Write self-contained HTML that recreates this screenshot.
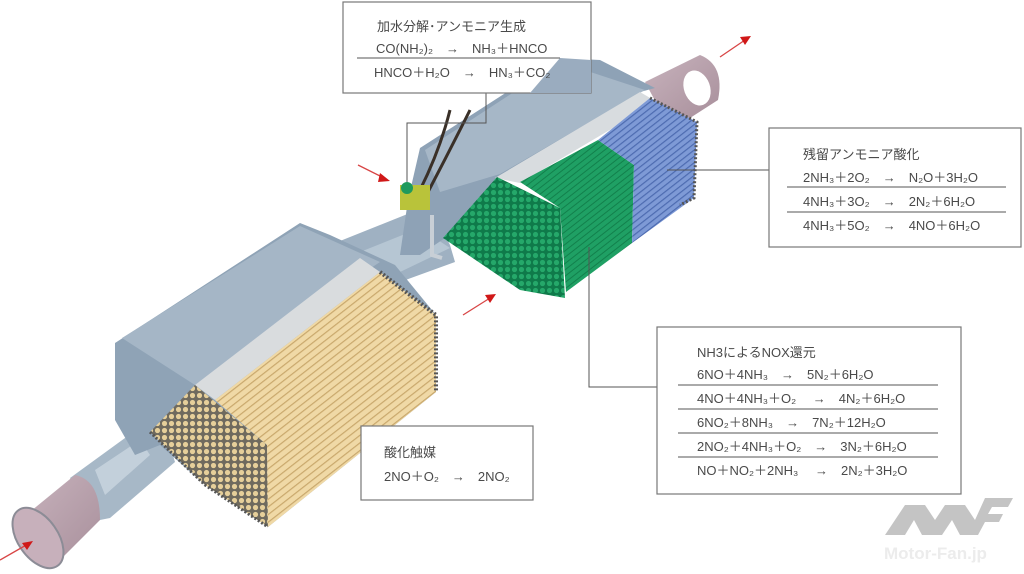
<!DOCTYPE html>
<html><head><meta charset="utf-8"><style>
html,body{margin:0;padding:0;background:#fff;width:1024px;height:574px;overflow:hidden}
svg{display:block}
text{font-family:"Liberation Sans","Noto Sans CJK JP",sans-serif;fill:#4a4a4a;font-size:13px}
</style></head><body>
<svg width="1024" height="574" viewBox="0 0 1024 574" xmlns="http://www.w3.org/2000/svg">
<defs>
<pattern id="hexY" width="7" height="7" patternUnits="userSpaceOnUse"><rect width="7" height="7" fill="#6f6a5e"/><circle cx="3.5" cy="3.5" r="2.6" fill="#e6cf9a"/></pattern>
<pattern id="hexG" width="7" height="7" patternUnits="userSpaceOnUse"><rect width="7" height="7" fill="#0f7a4a"/><circle cx="3.5" cy="3.5" r="2.6" fill="#25a86a"/></pattern>
<pattern id="strY" width="6" height="6" patternUnits="userSpaceOnUse" patternTransform="rotate(-38)"><rect width="6" height="6" fill="#f0d9a6"/><rect width="6" height="1.2" fill="#c9a86c"/></pattern>
<pattern id="strG" width="5" height="5" patternUnits="userSpaceOnUse" patternTransform="rotate(-38)"><rect width="5" height="5" fill="#1fa064"/><rect width="5" height="1" fill="#12804c"/></pattern>
<pattern id="strB" width="5" height="5" patternUnits="userSpaceOnUse" patternTransform="rotate(-38)"><rect width="5" height="5" fill="#7e9ad6"/><rect width="5" height="1.2" fill="#4d6bb0"/></pattern>
<linearGradient id="pink" x1="0" y1="0" x2="1" y2="1"><stop offset="0" stop-color="#c8b3bd"/><stop offset="1" stop-color="#a88f9b"/></linearGradient>
</defs>

<path d="M645,82 L700,55 Q725,65 718,100 L690,118 L660,110 Z" fill="url(#pink)"/>
<ellipse cx="697" cy="88" rx="13" ry="18" fill="#fff" transform="rotate(-20 697 88)"/>

<polygon points="330,245 380,225 430,205 450,245 455,262 400,282 350,282 335,270" fill="#9fb1c2"/>
<polygon points="345,258 420,228 450,248 400,272" fill="#b6c6d3"/>

<polygon points="408,200 420,148 560,58 600,60 655,88 640,92 500,178 445,238 420,255 400,255" fill="#8ea2b6"/>
<polygon points="425,150 560,62 645,90 500,174 440,192" fill="#a6b7c7"/>
<polygon points="495,178 640,92 657,102 520,183" fill="#d8dcdf"/>

<polygon points="443,238 497,177 560,208 565,298 520,290" fill="url(#hexG)"/>
<polygon points="520,182 598,140 634,165 632,243 566,292 560,208" fill="url(#strG)"/>
<polygon points="598,140 650,98 697,122 694,198 632,243 634,165" fill="url(#strB)"/>
<path d="M650,98 L697,122 L694,198 L680,205" fill="none" stroke="#555" stroke-width="3" stroke-dasharray="2 2"/>

<!-- left pipe -->
<polygon points="70,478 125,438 165,430 175,462 110,518 90,522" fill="#a7b8c7"/>
<polygon points="95,470 140,440 150,455 105,495" fill="#c3d0db"/>
<path d="M20,520 L75,475 Q100,480 100,520 L55,565 Z" fill="url(#pink)"/>
<ellipse cx="38" cy="538" rx="20" ry="34" fill="#c7b0bb" stroke="#8c8c96" stroke-width="2" transform="rotate(-35 38 538)"/>

<polygon points="115,343 300,223 330,235 395,265 436,315 436,392 268,527 205,485 160,445 135,455 115,420" fill="#8fa3b6"/>
<polygon points="122,338 300,226 380,262 195,385" fill="#a5b6c6"/>
<polygon points="195,385 360,258 380,272 215,400" fill="#d9dcde"/>
<polygon points="150,432 195,385 267,445 268,527 205,485" fill="url(#hexY)"/>
<polygon points="215,400 380,272 436,315 436,392 268,527 267,445" fill="url(#strY)"/>
<path d="M380,272 L436,315 L436,392" fill="none" stroke="#555" stroke-width="4" stroke-dasharray="2 2"/>
<path d="M150,432 L205,485 L268,527" fill="none" stroke="#555" stroke-width="3" stroke-dasharray="2 2"/>

<path d="M420,190 Q440,150 450,110 M428,192 Q450,150 470,110" stroke="#3a3028" stroke-width="3" fill="none"/>
<rect x="400" y="185" width="30" height="25" fill="#b9c33a"/>
<circle cx="407" cy="188" r="6" fill="#1f9a5c"/>
<path d="M432,215 L432,255 L442,258" stroke="#c8cfd6" stroke-width="4" fill="none"/>

<g stroke="#d84545" stroke-width="1.3" fill="#d01818">
<line x1="0" y1="560" x2="28" y2="544"/><polygon points="33,541 22,543 27,550" stroke="none"/>
<line x1="358" y1="165" x2="384" y2="178"/><polygon points="390,181 380,173 378,182" stroke="none"/>
<line x1="463" y1="315" x2="490" y2="298"/><polygon points="496,294 485,295 490,303" stroke="none"/>
<line x1="720" y1="57" x2="745" y2="40"/><polygon points="751,36 740,37 745,45" stroke="none"/>
</g>

<g stroke="#555" stroke-width="1" fill="none">
<polyline points="486,93 486,123 407,123 407,182"/>
<line x1="667" y1="170" x2="769" y2="170"/>
<polyline points="589,247 589,387 657,387"/>
</g>

<g fill="#fff" stroke="#777" stroke-width="1.2">
<rect x="343" y="2" width="248" height="91"/>
<rect x="769" y="128" width="252" height="119"/>
<rect x="657" y="327" width="304" height="167"/>
<rect x="361" y="426" width="172" height="74"/>
</g>
<polygon points="530,93 560,58 591,60 591,93" fill="#9aacbf"/>

<g stroke="#555" stroke-width="1">
<line x1="357" y1="58" x2="560" y2="58"/>
<line x1="787" y1="187" x2="1006" y2="187"/>
<line x1="787" y1="212" x2="1006" y2="212"/>
<line x1="678" y1="385" x2="938" y2="385"/>
<line x1="678" y1="409" x2="938" y2="409"/>
<line x1="678" y1="433" x2="938" y2="433"/>
<line x1="678" y1="457" x2="938" y2="457"/>
</g>

<text x="377" y="31">加水分解･アンモニア生成</text>
<text x="376" y="53">CO(NH₂)₂　→　NH₃＋HNCO</text>
<text x="374" y="77">HNCO＋H₂O　→　HN₃＋CO₂</text>

<text x="803" y="159">残留アンモニア酸化</text>
<text x="803" y="182">2NH₃＋2O₂　→　N₂O＋3H₂O</text>
<text x="803" y="206">4NH₃＋3O₂　→　2N₂＋6H₂O</text>
<text x="803" y="230">4NH₃＋5O₂　→　4NO＋6H₂O</text>

<text x="697" y="357">NH3によるNOX還元</text>
<text x="697" y="379">6NO＋4NH₃　→　5N₂＋6H₂O</text>
<text x="697" y="403">4NO＋4NH₃＋O₂　 →　4N₂＋6H₂O</text>
<text x="697" y="427">6NO₂＋8NH₃　→　7N₂＋12H₂O</text>
<text x="697" y="451">2NO₂＋4NH₃＋O₂　→　3N₂＋6H₂O</text>
<text x="697" y="475">NO＋NO₂＋2NH₃　 →　2N₂＋3H₂O</text>

<text x="384" y="457">酸化触媒</text>
<text x="384" y="481">2NO＋O₂　→　2NO₂</text>

<polygon points="885,535 905,505 925,505 935,520 945,505 965,505 975,520 985,498 1013,498 1008,507 992,507 988,514 1003,514 999,522 985,522 978,535 960,535 952,520 942,535 922,535 914,520 905,535" fill="#c4c4c4"/>
<text x="884" y="559" style="font-size:17px;fill:#ececec;font-weight:bold">Motor-Fan.jp</text>
</svg>
</body></html>
